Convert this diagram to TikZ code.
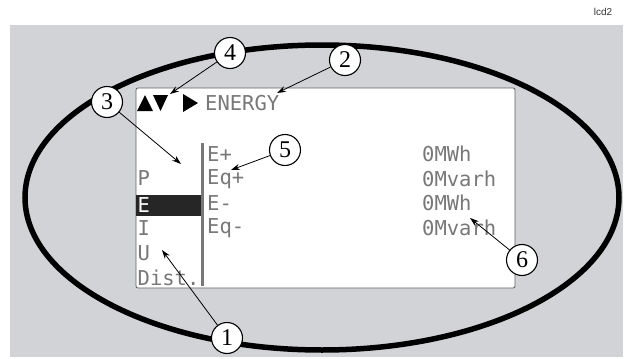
\documentclass[tikz,border=0pt]{standalone}
\usepackage{fontspec}
\setmainfont{Liberation Serif}
\newfontfamily\lcdfont{DejaVu Sans Mono}
\newfontfamily\tagfont{Liberation Sans}
\usepackage{tikz}
\usetikzlibrary{arrows.meta,positioning}
\usepackage{xcolor}
\definecolor{panelgray}{RGB}{210,211,214}
\definecolor{lcdtext}{RGB}{120,120,120}
\definecolor{lcdframe}{RGB}{95,95,95}
\definecolor{barcolor}{RGB}{120,120,120}

\begin{document}
\begin{tikzpicture}[x=1pt, y=-1pt, every node/.style={inner sep=0pt},
    callout/.style={circle, draw, fill=white, line width=1.1pt, minimum size=31pt,
      font=\fontsize{24}{24}\selectfont},
    lcd/.style={anchor=west, text=lcdtext, font=\lcdfont\fontsize{20.5}{20.5}\selectfont},
    pointer/.style={-{Stealth[length=9pt,width=6pt]}, line width=0.8pt}]
      \useasboundingbox (0,0) rectangle (625,359);
      % Panel background and tag
      \fill[panelgray] (10,25) rectangle (623,357);
      \node[font=\tagfont\fontsize{10}{10}\selectfont, text=black!80] (tag) at (603,12) {lcd2};

      % Outline around the display
      \draw[line width=5.5pt] (322,197.5) ellipse [x radius=297, y radius=152.5];

      % Display window
      \draw[lcdframe, fill=white, rounded corners=2pt, line width=0.8pt] (136,88) rectangle (515,288);
      \draw[barcolor, line width=3pt] (202,143) -- (202,286);
      \fill[black!85] (136.4,195) rectangle (200.5,216);

      % Title row: arrow keys and page name
      \fill[black] (137,111) -- (145,95) -- (153,111) -- cycle;
      \fill[black] (153,95) -- (168,95) -- (160.5,111) -- cycle;
      \fill[black] (183,94) -- (198,103) -- (183,112) -- cycle;
      \node[lcd] (title) at (205,103) {ENERGY};

      % Menu column
      \foreach \y/\t/\n in {178/P/p, 228/I/i, 253/U/u, 278/Dist./d} {
        \node[lcd] (m\n) at (137.5,\y) {\t};
      }
      \node[lcd, text=white] (me) at (137.5,205) {E};

      % Counter rows
      \foreach \y/\k/\v/\n in {154/E+/0MWh/1, 179/Eq+/0Mvarh/2, 203/E-/0MWh/3, 228/Eq-/0Mvarh/4} {
        \node[lcd] (k\n) at (207,\y) {\k};
        \node[lcd] (v\n) at (422,\y) {\v};
      }

      % Callouts
      \node[callout] (c1) at (227,338) {1};
      \node[callout] (c2) at (345,60) {2};
      \node[callout] (c3) at (107,102) {3};
      \node[callout] (c4) at (230,53) {4};
      \node[callout] (c5) at (285,150) {5};
      \node[callout] (c6) at (522,260) {6};

      \coordinate (t1) at (162,250);
      \coordinate (t2) at (277,93);
      \coordinate (t3) at (181,164);
      \coordinate (t4) at (170,94);
      \coordinate (t5) at (231,170);
      \coordinate (t6) at (470,218);

      \draw[pointer] (c1) -- (t1);
      \draw[pointer] (c2) -- (t2);
      \draw[pointer] (c3) -- (t3);
      \draw[pointer] (c4) -- (t4);
      \draw[pointer] (c5) -- (t5);
      \draw[pointer] (c6) -- (t6);
    \end{tikzpicture}
\end{document}
